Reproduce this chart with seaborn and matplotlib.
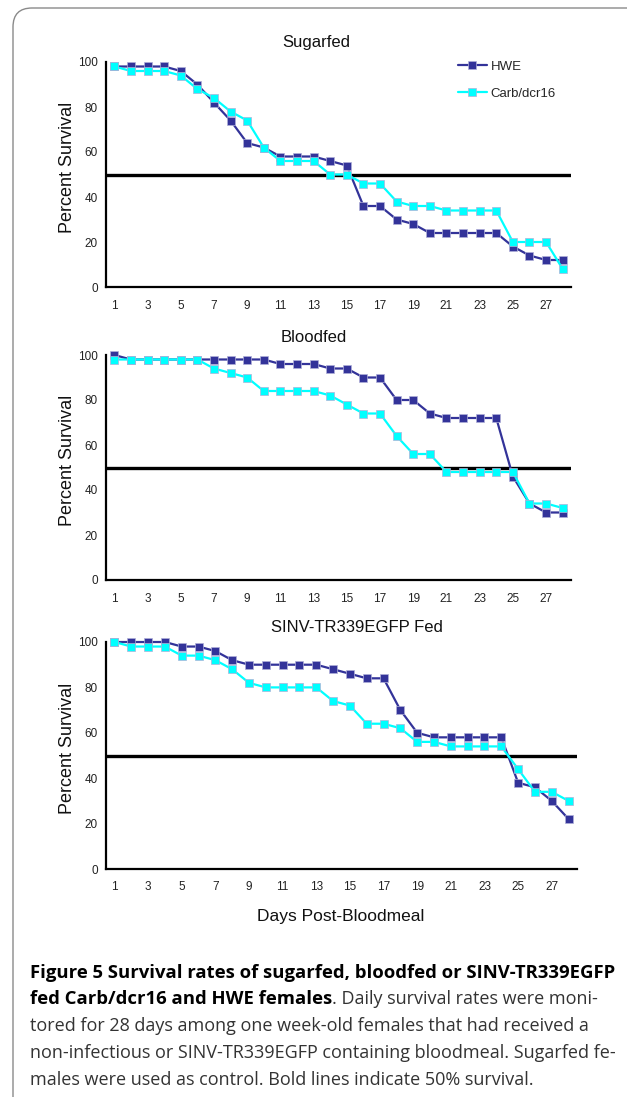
import numpy as np
import pandas as pd
import seaborn as sns
import matplotlib.pyplot as plt
from matplotlib.path import Path
from matplotlib.patches import PathPatch
from matplotlib.ticker import MultipleLocator, FixedLocator

days = list(range(1, 29))
strains = ['HWE', 'Carb/dcr16']

sugar_hwe = [98, 98, 98, 98, 96, 90, 82, 74, 64, 62, 58, 58, 58, 56, 54, 36, 36, 30, 28, 24, 24, 24, 24, 24, 18, 14, 12, 12]
sugar_carb = [98, 96, 96, 96, 94, 88, 84, 78, 74, 62, 56, 56, 56, 50, 50, 46, 46, 38, 36, 36, 34, 34, 34, 34, 20, 20, 20, 8]

blood_hwe = [100, 98, 98, 98, 98, 98, 98, 98, 98, 98, 96, 96, 96, 94, 94, 90, 90, 80, 80, 74, 72, 72, 72, 72, 46, 34, 30, 30]
blood_carb = [98, 98, 98, 98, 98, 98, 94, 92, 90, 84, 84, 84, 84, 82, 78, 74, 74, 64, 56, 56, 48, 48, 48, 48, 48, 34, 34, 32]

sinv_hwe = [100, 100, 100, 100, 98, 98, 96, 92, 90, 90, 90, 90, 90, 88, 86, 84, 84, 70, 60, 58, 58, 58, 58, 58, 38, 36, 30, 22]
sinv_carb = [100, 98, 98, 98, 94, 94, 92, 88, 82, 80, 80, 80, 80, 74, 72, 64, 64, 62, 56, 56, 54, 54, 54, 54, 44, 34, 34, 30]

panel_titles = ['Sugarfed', 'Bloodfed', 'SINV-TR339EGFP Fed']
panel_data = [(sugar_hwe, sugar_carb), (blood_hwe, blood_carb), (sinv_hwe, sinv_carb)]
half_line = 50

sns.set_style('white')
plt.rcParams['font.family'] = ['Liberation Sans', 'DejaVu Sans']

W, H = 631, 1102
fig = plt.figure(figsize=(W / 100, H / 100), dpi=100)
palette = {'HWE': '#333399', 'Carb/dcr16': '#00FFFF'}


def fx(x):
    return x / W


def fy(y):
    return 1 - y / H


# axes boxes in pixels: left, top(100), bottom(0), right
boxes = [(106, 62, 287, 571), (106, 355, 580, 571), (106, 642, 869, 577)]
title_pos = [(316, 42), (314, 338), (357, 627)]

for i, (title, (hwe, carb)) in enumerate(zip(panel_titles, panel_data)):
    l, t, b, r = boxes[i]
    ax = fig.add_axes([l / W, 1 - b / H, (r - l) / W, (b - t) / H])
    df = pd.DataFrame({'day': days * 2,
                       'value': hwe + carb,
                       'strain': ['HWE'] * len(days) + ['Carb/dcr16'] * len(days)})
    sns.lineplot(data=df, x='day', y='value', hue='strain', hue_order=strains,
                 palette=palette, marker='s', markersize=6, markeredgewidth=0.5,
                 markeredgecolor='#b0b0d8', linewidth=1.6, ax=ax, legend=(i == 0),
                 clip_on=False, zorder=3)
    ax.axhline(half_line, color='black', linewidth=2.4, zorder=2)
    ax.set_xlim(0.5, 28.5)
    ax.set_ylim(0, 100)
    ax.yaxis.set_major_locator(MultipleLocator(20))
    ax.xaxis.set_major_locator(FixedLocator(days[::2]))
    ax.xaxis.set_minor_locator(FixedLocator(np.arange(0.5, 29, 1)))
    ax.tick_params(axis='x', which='major', length=0, labelsize=8.5, pad=9)
    ax.tick_params(axis='x', which='minor', length=4, width=1.1, direction='out', color='black')
    ax.tick_params(axis='y', length=4, width=1.1, direction='out', color='black', labelsize=8.5, pad=2)
    ax.tick_params(axis='both', labelcolor='#222222')
    for s in ['top', 'right']:
        ax.spines[s].set_visible(False)
    for s in ['left', 'bottom']:
        ax.spines[s].set_color('black')
        ax.spines[s].set_linewidth(1.6)
    tx, ty = title_pos[i]
    fig.text(fx(tx), fy(ty), title, fontsize=12, ha='center', va='center', color='#111111')
    ax.set_ylabel('Percent Survival', fontsize=13, color='#111111')
    ax.yaxis.label.set_va('center')
    ax.yaxis.set_label_coords((67 - l) / (r - l), 0.53)
    ax.set_xlabel('')
    if i == 0:
        ax.legend(frameon=False, loc='upper left', bbox_to_anchor=(0.745, 1.03),
                  fontsize=9.5, handlelength=2.2, handletextpad=0.3, labelspacing=1.1,
                  borderaxespad=0)

fig.text(fx(341), fy(917), 'Days Post-Bloodmeal', fontsize=12.5, ha='center', va='center',
         color='#111111')

# frame: top and left edges with rounded corner
verts = [(fx(627), fy(8)), (fx(32), fy(8)), (fx(13), fy(8)), (fx(13), fy(27)), (fx(13), fy(1097))]
codes = [Path.MOVETO, Path.LINETO, Path.CURVE3, Path.CURVE3, Path.LINETO]
fig.add_artist(PathPatch(Path(verts, codes), transform=fig.transFigure,
                         facecolor='none', edgecolor='#8a8a8a', linewidth=1.0))

# caption
bold_font = ['Open Sans', 'DejaVu Sans']
body_font = ['Open Sans', 'DejaVu Sans']
body_size = 13.0
x0 = fx(30)
base = [978, 1004.5, 1031, 1058, 1085]
fig.text(x0, fy(base[0]), 'Figure 5 Survival rates of sugarfed, bloodfed or SINV-TR339EGFP',
         fontsize=13.3, fontweight='bold', family=bold_font, va='baseline', color='black')
bold2 = fig.text(x0, fy(base[1]), 'fed Carb/dcr16 and HWE females',
                 fontsize=13.3, fontweight='bold', family=bold_font, va='baseline', color='black')
fig.canvas.draw()
bb = bold2.get_window_extent()
fig.text(bb.x1 / W, fy(base[1]), '. Daily survival rates were moni-',
         fontsize=body_size, family=body_font, va='baseline', color='#333333')
rest = ['tored for 28 days among one week-old females that had received a',
        'non-infectious or SINV-TR339EGFP containing bloodmeal. Sugarfed fe-',
        'males were used as control. Bold lines indicate 50% survival.']
for k, line in enumerate(rest):
    fig.text(x0, fy(base[k + 2]), line, fontsize=body_size, family=body_font,
             va='baseline', color='#333333')

fig.savefig('out.png', dpi=100)
